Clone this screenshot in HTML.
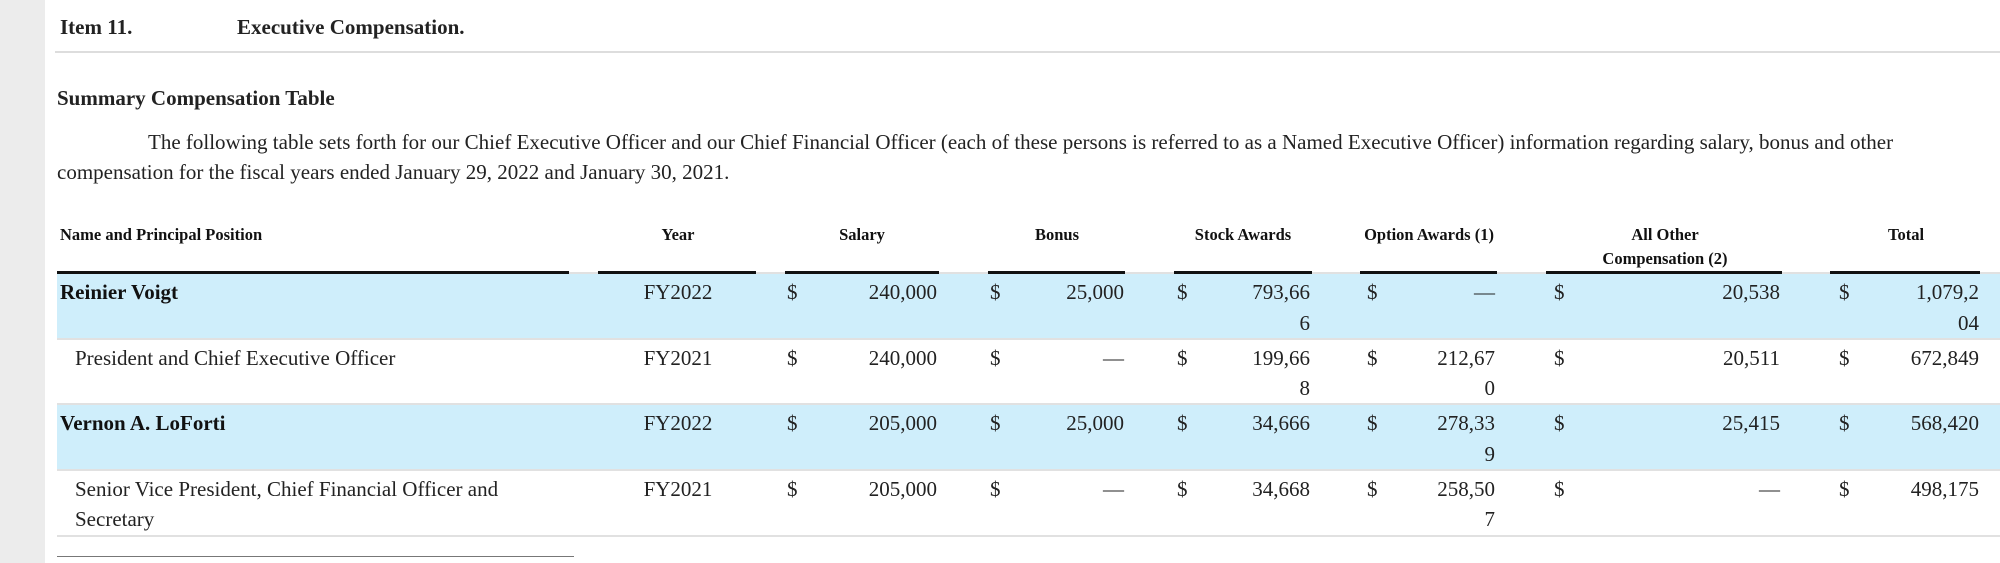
<!DOCTYPE html>
<html><head><meta charset="utf-8">
<style>
html,body{margin:0;padding:0;}
body{width:2000px;height:563px;position:relative;overflow:hidden;background:#fff;font-family:"Liberation Serif",serif;color:#222;}
.a{position:absolute;white-space:nowrap;line-height:22px;}
.b{font-weight:bold;}
.h{font-weight:bold;font-size:16.5px;color:#111;}
.t{font-size:21px;}
.bg{position:absolute;left:57px;right:0;background:#cfeefb;}
.sep{position:absolute;left:57px;right:0;height:2px;background:#e1e1e1;}
.rule{position:absolute;top:271px;height:3px;background:#111;}
</style></head><body>
<div style="position:absolute;left:0;top:0;width:45px;height:563px;background:#ececec;"></div>

<div class="a b" style="left:60px;top:16px;font-size:21px;">Item 11.</div>
<div class="a b" style="left:237px;top:16px;font-size:21px;">Executive Compensation.</div>
<div style="position:absolute;left:55px;right:0;top:51px;height:2px;background:#ddd;"></div>

<div class="a b" style="left:57px;top:87px;font-size:21px;">Summary Compensation Table</div>
<div class="a t" style="left:148px;top:131px;">The following table sets forth for our Chief Executive Officer and our Chief Financial Officer (each of these persons is referred to as a Named Executive Officer) information regarding salary, bonus and other</div>
<div class="a t" style="left:57px;top:161px;">compensation for the fiscal years ended January 29, 2022 and January 30, 2021.</div>

<!-- headers -->
<div class="a h" style="left:60px;top:224px;">Name and Principal Position</div>
<div class="a h" style="left:578px;width:200px;text-align:center;top:224px;">Year</div>
<div class="a h" style="left:762px;width:200px;text-align:center;top:224px;">Salary</div>
<div class="a h" style="left:957px;width:200px;text-align:center;top:224px;">Bonus</div>
<div class="a h" style="left:1143px;width:200px;text-align:center;top:224px;">Stock Awards</div>
<div class="a h" style="left:1329px;width:200px;text-align:center;top:224px;">Option Awards (1)</div>
<div class="a h" style="left:1565px;width:200px;text-align:center;top:224px;">All Other</div>
<div class="a h" style="left:1565px;width:200px;text-align:center;top:248px;">Compensation (2)</div>
<div class="a h" style="left:1806px;width:200px;text-align:center;top:224px;">Total</div>

<div style="position:absolute;left:57px;right:0;top:272px;height:2px;background:#e1e1e1;"></div>
<div class="rule" style="left:57px;width:512px;"></div>
<div class="rule" style="left:598px;width:158px;"></div>
<div class="rule" style="left:785px;width:154px;"></div>
<div class="rule" style="left:988px;width:137px;"></div>
<div class="rule" style="left:1174px;width:138px;"></div>
<div class="rule" style="left:1360px;width:137px;"></div>
<div class="rule" style="left:1546px;width:236px;"></div>
<div class="rule" style="left:1830px;width:150px;"></div>

<!-- backgrounds -->
<div class="bg" style="top:274px;height:64px;"></div>
<div class="sep" style="top:338px;"></div>
<div class="sep" style="top:403px;"></div>
<div class="bg" style="top:405px;height:64px;"></div>
<div class="sep" style="top:469px;"></div>
<div class="sep" style="top:535px;"></div>

<!-- row 1 -->
<div class="a t b" style="left:60px;top:281px;color:#111;">Reinier Voigt</div>
<div class="a t" style="left:578px;width:200px;text-align:center;top:281px;">FY2022</div>
<div class="a t" style="left:787px;top:281px;">$</div><div class="a t" style="right:1063px;top:281px;">240,000</div>
<div class="a t" style="left:990px;top:281px;">$</div><div class="a t" style="right:876px;top:281px;">25,000</div>
<div class="a t" style="left:1177px;top:281px;">$</div><div class="a t" style="right:690px;top:281px;">793,66</div><div class="a t" style="right:690px;top:312px;">6</div>
<div class="a t" style="left:1367px;top:281px;">$</div><div class="a t" style="right:505px;top:281px;">—</div>
<div class="a t" style="left:1554px;top:281px;">$</div><div class="a t" style="right:220px;top:281px;">20,538</div>
<div class="a t" style="left:1839px;top:281px;">$</div><div class="a t" style="right:21px;top:281px;">1,079,2</div><div class="a t" style="right:21px;top:312px;">04</div>

<!-- row 2 -->
<div class="a t" style="left:75px;top:347px;">President and Chief Executive Officer</div>
<div class="a t" style="left:578px;width:200px;text-align:center;top:347px;">FY2021</div>
<div class="a t" style="left:787px;top:347px;">$</div><div class="a t" style="right:1063px;top:347px;">240,000</div>
<div class="a t" style="left:990px;top:347px;">$</div><div class="a t" style="right:876px;top:347px;">—</div>
<div class="a t" style="left:1177px;top:347px;">$</div><div class="a t" style="right:690px;top:347px;">199,66</div><div class="a t" style="right:690px;top:377px;">8</div>
<div class="a t" style="left:1367px;top:347px;">$</div><div class="a t" style="right:505px;top:347px;">212,67</div><div class="a t" style="right:505px;top:377px;">0</div>
<div class="a t" style="left:1554px;top:347px;">$</div><div class="a t" style="right:220px;top:347px;">20,511</div>
<div class="a t" style="left:1839px;top:347px;">$</div><div class="a t" style="right:21px;top:347px;">672,849</div>

<!-- row 3 -->
<div class="a t b" style="left:60px;top:412px;color:#111;">Vernon A. LoForti</div>
<div class="a t" style="left:578px;width:200px;text-align:center;top:412px;">FY2022</div>
<div class="a t" style="left:787px;top:412px;">$</div><div class="a t" style="right:1063px;top:412px;">205,000</div>
<div class="a t" style="left:990px;top:412px;">$</div><div class="a t" style="right:876px;top:412px;">25,000</div>
<div class="a t" style="left:1177px;top:412px;">$</div><div class="a t" style="right:690px;top:412px;">34,666</div>
<div class="a t" style="left:1367px;top:412px;">$</div><div class="a t" style="right:505px;top:412px;">278,33</div><div class="a t" style="right:505px;top:443px;">9</div>
<div class="a t" style="left:1554px;top:412px;">$</div><div class="a t" style="right:220px;top:412px;">25,415</div>
<div class="a t" style="left:1839px;top:412px;">$</div><div class="a t" style="right:21px;top:412px;">568,420</div>

<!-- row 4 -->
<div class="a t" style="left:75px;top:478px;">Senior Vice President, Chief Financial Officer and</div>
<div class="a t" style="left:75px;top:508px;">Secretary</div>
<div class="a t" style="left:578px;width:200px;text-align:center;top:478px;">FY2021</div>
<div class="a t" style="left:787px;top:478px;">$</div><div class="a t" style="right:1063px;top:478px;">205,000</div>
<div class="a t" style="left:990px;top:478px;">$</div><div class="a t" style="right:876px;top:478px;">—</div>
<div class="a t" style="left:1177px;top:478px;">$</div><div class="a t" style="right:690px;top:478px;">34,668</div>
<div class="a t" style="left:1367px;top:478px;">$</div><div class="a t" style="right:505px;top:478px;">258,50</div><div class="a t" style="right:505px;top:508px;">7</div>
<div class="a t" style="left:1554px;top:478px;">$</div><div class="a t" style="right:220px;top:478px;">—</div>
<div class="a t" style="left:1839px;top:478px;">$</div><div class="a t" style="right:21px;top:478px;">498,175</div>

<div style="position:absolute;left:57px;top:556px;width:517px;height:1px;background:#777;"></div>
</body></html>
